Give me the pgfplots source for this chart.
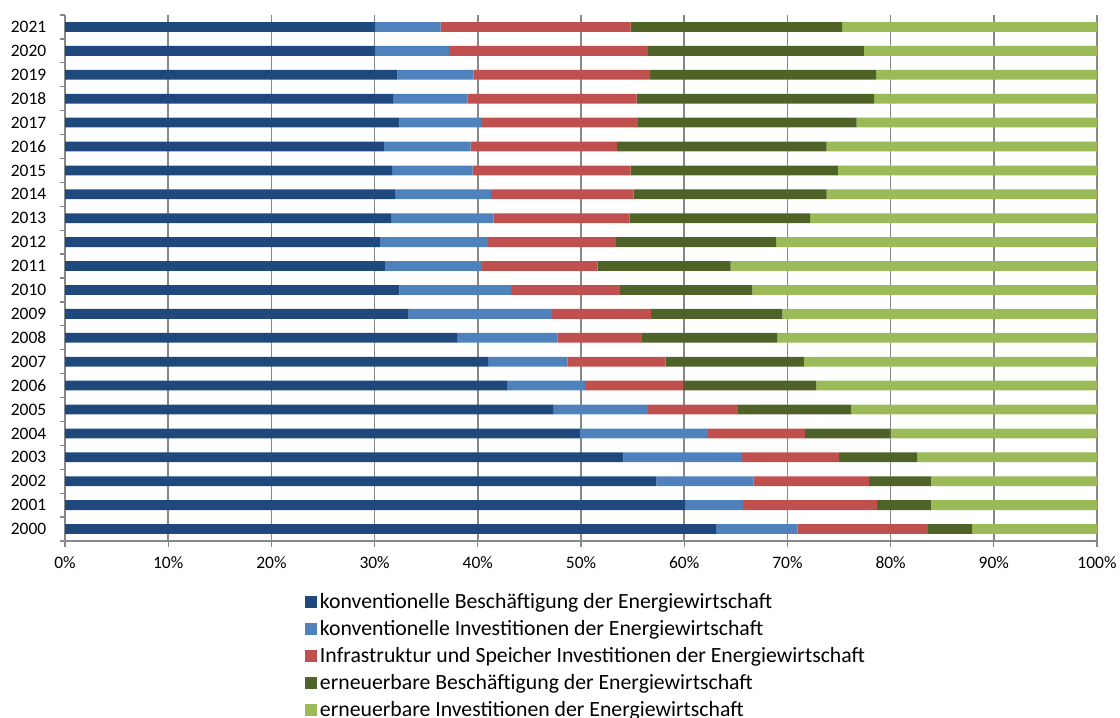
\documentclass[border=0pt]{standalone}
\usepackage{pgfplots}
\usepackage{pgfplotstable}
\pgfplotsset{compat=1.18}
\usepackage{fontspec}
\setmainfont{Carlito}
\definecolor{c1}{HTML}{1F497D}
\definecolor{c2}{HTML}{4F81BD}
\definecolor{c3}{HTML}{C0504D}
\definecolor{c4}{HTML}{4F6228}
\definecolor{c5}{HTML}{9BBB59}
\definecolor{gridc}{HTML}{888888}
\pgfplotstableread{
y c1 c2 c3 c4 c5
0 63.1 7.9 12.6 4.3 12.1
1 60.1 5.6 13.0 5.2 16.1
2 57.3 9.4 11.2 6.0 16.1
3 54.1 11.5 9.4 7.6 17.4
4 49.9 12.4 9.4 8.3 20.0
5 47.3 9.2 8.7 11.0 23.8
6 42.9 7.5 9.5 12.9 27.2
7 41.0 7.7 9.5 13.4 28.4
8 38.0 9.7 8.2 13.1 31.0
9 33.3 13.9 9.6 12.7 30.5
10 32.4 10.8 10.6 12.8 33.4
11 31.0 9.4 11.2 12.9 35.5
12 30.5 10.5 12.4 15.5 31.1
13 31.6 9.9 13.2 17.5 27.8
14 32.0 9.3 13.8 18.7 26.2
15 31.7 7.8 15.3 20.1 25.1
16 30.9 8.4 14.2 20.3 26.2
17 32.4 7.9 15.2 21.2 23.3
18 31.8 7.2 16.4 23.0 21.6
19 32.2 7.4 17.1 21.9 21.4
20 30.1 7.1 19.3 20.9 22.6
21 30.1 6.3 18.4 20.5 24.7
}\data
\begin{document}
\begin{tikzpicture}
\useasboundingbox (0,0) rectangle (840pt,537.75pt);
\begin{axis}[
  at={(48.75pt,132pt)}, anchor=south west,
  scale only axis, width=774pt, height=394.5pt,
  xbar stacked, bar width=0.41,
  xmin=0, xmax=100, ymin=-0.5, ymax=21.5,
  xtick={0,10,...,100},
  xticklabel={\pgfmathprintnumber{\tick}\%},
  ytick={0,...,21},
  yticklabels={2000,2001,2002,2003,2004,2005,2006,2007,2008,2009,2010,2011,2012,2013,2014,2015,2016,2017,2018,2019,2020,2021},
  minor ytick={-0.5,0.5,...,21.5},
  /pgf/number format/assume math mode=true,
  axis x line*=bottom, axis y line*=left,
  axis line style={gridc, line width=1pt},
  xmajorgrids, major grid style={gridc, line width=1.1pt},
  tick align=outside,
  major x tick style={gridc, line width=1pt},
  major tick length=4.5pt,
  major y tick style={draw=none},
  minor y tick style={gridc, line width=1pt},
  minor tick length=4pt,
  tick label style={font=\fontsize{13.1pt}{15pt}\selectfont, text=black},
  xticklabel style={yshift=-4pt},
  yticklabel style={xshift=-6pt},
  legend cell align=left,
  legend style={at={(0.2326,-0.095)}, anchor=north west, draw=none, fill=none,
    font=\fontsize{16.3pt}{18pt}\selectfont, row sep=3.4pt, inner sep=0pt,
    /tikz/every even column/.append style={column sep=0pt}},
  legend image code/.code={\fill[#1] (0pt,-4.5pt) rectangle (9pt,4.5pt);},
]
\addplot[fill=c1, draw=none] table[x=c1, y=y] {\data};
\addplot[fill=c2, draw=none] table[x=c2, y=y] {\data};
\addplot[fill=c3, draw=none] table[x=c3, y=y] {\data};
\addplot[fill=c4, draw=none] table[x=c4, y=y] {\data};
\addplot[fill=c5, draw=none] table[x=c5, y=y] {\data};
\legend{konventionelle Beschäftigung der Energiewirtschaft,
konventionelle Investitionen der Energiewirtschaft,
Infrastruktur und Speicher Investitionen der Energiewirtschaft,
erneuerbare Beschäftigung der Energiewirtschaft,
erneuerbare Investitionen der Energiewirtschaft}
\end{axis}
\end{tikzpicture}
\end{document}
